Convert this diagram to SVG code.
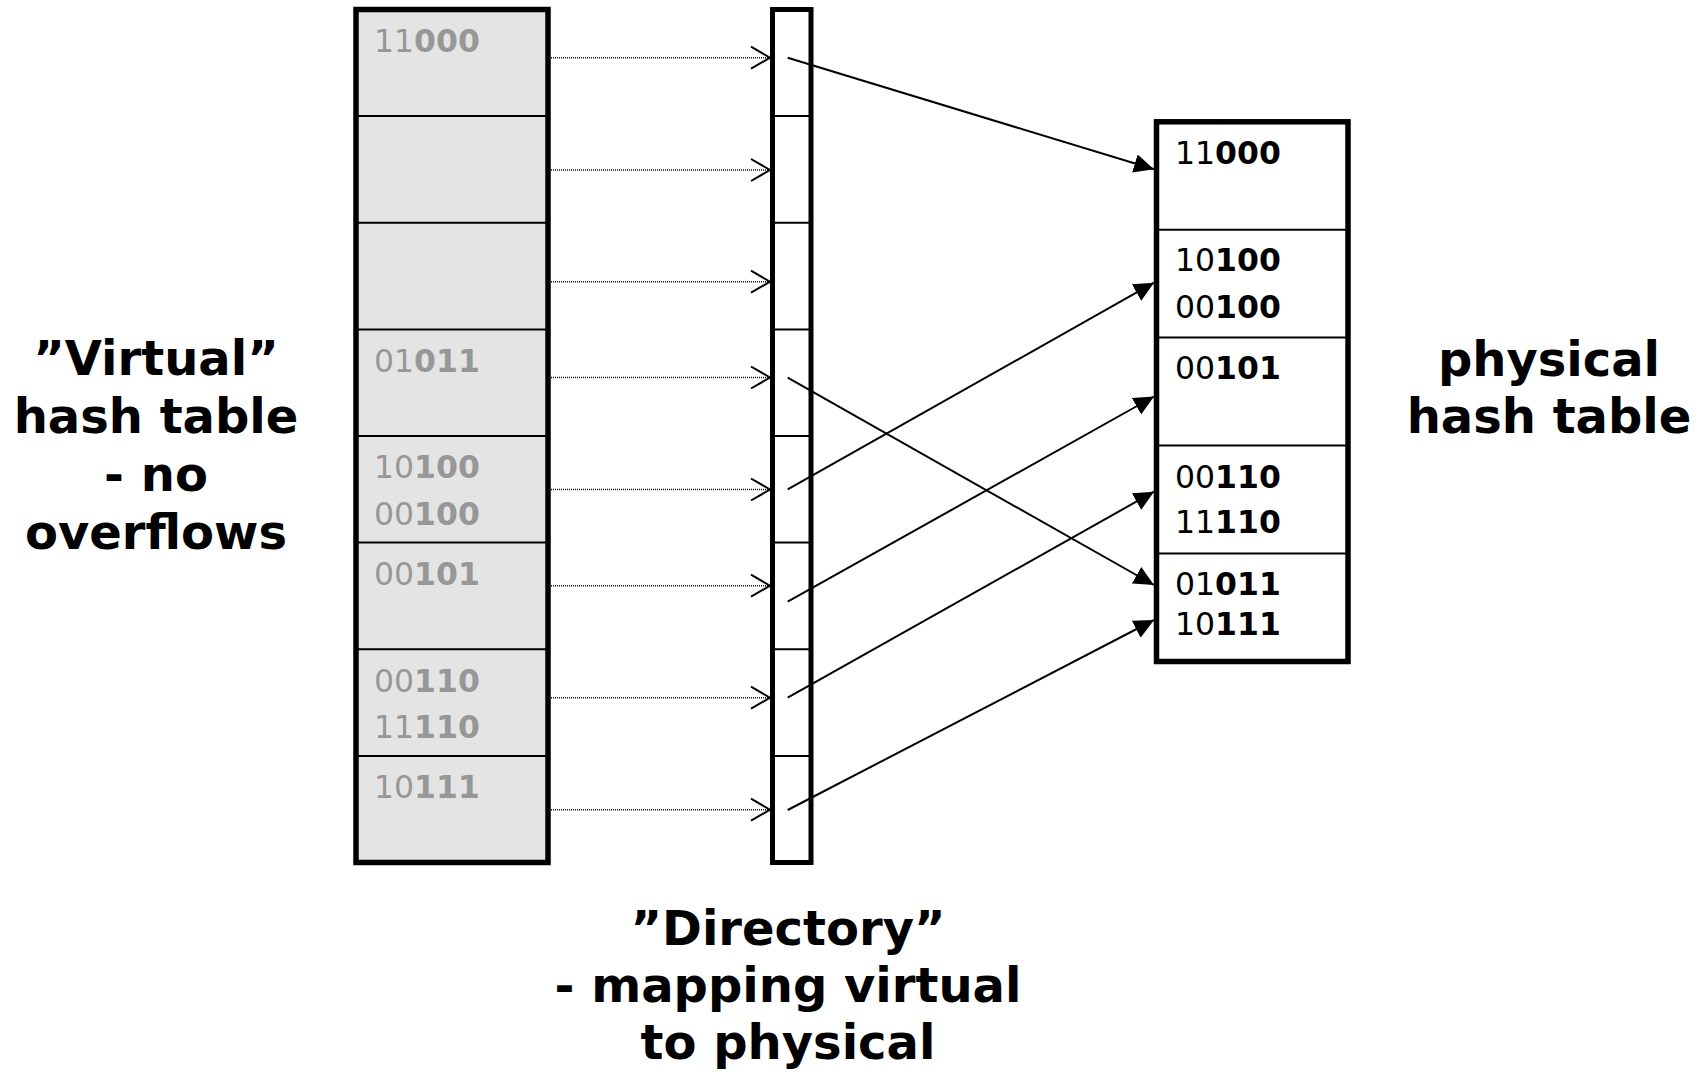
<svg xmlns="http://www.w3.org/2000/svg" width="1699" height="1072" viewBox="0 0 1699 1072">
  <style>
    .frame { stroke: #000; stroke-width: 5.5; }
    .sep { stroke: #000; stroke-width: 2; }
    .key { font-family: "DejaVu Sans", Verdana, sans-serif; font-size: 31.5px; }
    .key .b { font-weight: bold; }
    .ghost { fill: #979797; }
    .real { fill: #000; }
    .label { font-family: "DejaVu Sans", Verdana, sans-serif; font-size: 48px; font-weight: bold; fill: #000; text-anchor: middle; }
    .dotted { stroke: #111; stroke-width: 1.5; stroke-dasharray: 1 1; fill: none; }
    .chev { stroke: #000; stroke-width: 2; fill: none; }
    .ptr { stroke: #000; stroke-width: 2; fill: none; }
  </style>
  <defs>
    <marker id="tri" markerUnits="userSpaceOnUse" markerWidth="20" markerHeight="20" refX="20" refY="10" orient="auto">
      <path d="M0,0.5 L20,10 L0,19.5 z" fill="#000"/>
    </marker>
  </defs>
  <rect width="1699" height="1072" fill="#fff"/>

  <!-- virtual hash table: 8 buckets -->
  <g id="virtual-table">
    <rect class="frame" x="356" y="9.5" width="192" height="853" fill="#e4e4e4"/>
    <g class="sep">
      <line x1="356" y1="116.1" x2="548" y2="116.1"/>
      <line x1="356" y1="222.8" x2="548" y2="222.8"/>
      <line x1="356" y1="329.4" x2="548" y2="329.4"/>
      <line x1="356" y1="436" x2="548" y2="436"/>
      <line x1="356" y1="542.6" x2="548" y2="542.6"/>
      <line x1="356" y1="649.3" x2="548" y2="649.3"/>
      <line x1="356" y1="755.9" x2="548" y2="755.9"/>
    </g>
    <g class="key ghost">
      <text x="374" y="51.7">11<tspan class="b">000</tspan></text>
      <text x="374" y="371.7">01<tspan class="b">011</tspan></text>
      <text x="374" y="478.3">10<tspan class="b">100</tspan></text>
      <text x="374" y="525">00<tspan class="b">100</tspan></text>
      <text x="374" y="585">00<tspan class="b">101</tspan></text>
      <text x="374" y="691.7">00<tspan class="b">110</tspan></text>
      <text x="374" y="738.3">11<tspan class="b">110</tspan></text>
      <text x="374" y="798.3">10<tspan class="b">111</tspan></text>
    </g>
  </g>

  <!-- directory: one slot per virtual bucket -->
  <g id="directory">
    <rect x="772.5" y="9.5" width="38.5" height="853" fill="#fff" stroke="#000" stroke-width="5"/>
    <g class="sep">
      <line x1="772.5" y1="116.1" x2="811" y2="116.1"/>
      <line x1="772.5" y1="222.8" x2="811" y2="222.8"/>
      <line x1="772.5" y1="329.4" x2="811" y2="329.4"/>
      <line x1="772.5" y1="436" x2="811" y2="436"/>
      <line x1="772.5" y1="542.6" x2="811" y2="542.6"/>
      <line x1="772.5" y1="649.3" x2="811" y2="649.3"/>
      <line x1="772.5" y1="755.9" x2="811" y2="755.9"/>
    </g>
  </g>

  <!-- physical hash table: 5 buckets -->
  <g id="physical-table">
    <rect class="frame" x="1156.5" y="121.8" width="191.5" height="539.7" fill="#fff"/>
    <g class="sep">
      <line x1="1156.5" y1="229.7" x2="1348" y2="229.7"/>
      <line x1="1156.5" y1="337.6" x2="1348" y2="337.6"/>
      <line x1="1156.5" y1="445.5" x2="1348" y2="445.5"/>
      <line x1="1156.5" y1="553.5" x2="1348" y2="553.5"/>
    </g>
    <g class="key real">
      <text x="1175" y="164.3">11<tspan class="b">000</tspan></text>
      <text x="1175" y="271">10<tspan class="b">100</tspan></text>
      <text x="1175" y="317.7">00<tspan class="b">100</tspan></text>
      <text x="1175" y="379">00<tspan class="b">101</tspan></text>
      <text x="1175" y="487.7">00<tspan class="b">110</tspan></text>
      <text x="1175" y="533.3">11<tspan class="b">110</tspan></text>
      <text x="1175" y="595.3">01<tspan class="b">011</tspan></text>
      <text x="1175" y="635">10<tspan class="b">111</tspan></text>
    </g>
  </g>

  <!-- captions -->
  <g id="virtual-caption" class="label">
    <text x="156" y="374.5">”Virtual”</text>
    <text x="156" y="432.5">hash table</text>
    <text x="156" y="490.5">- no</text>
    <text x="156" y="548.5">overflows</text>
  </g>
  <g id="physical-caption" class="label">
    <text x="1549" y="376">physical</text>
    <text x="1549" y="432.5">hash table</text>
  </g>
  <g id="directory-caption" class="label">
    <text x="788" y="945">”Directory”</text>
    <text x="788" y="1002">- mapping virtual</text>
    <text x="788" y="1059">to physical</text>
  </g>

  <!-- connectors -->
  <g id="connectors">
    <!-- virtual bucket to directory slot -->
    <g class="dotted">
      <line x1="551" y1="57.7" x2="769" y2="57.7"/>
      <line x1="551" y1="170" x2="769" y2="170"/>
      <line x1="551" y1="281.7" x2="769" y2="281.7"/>
      <line x1="551" y1="377.5" x2="769" y2="377.5"/>
      <line x1="551" y1="489.5" x2="769" y2="489.5"/>
      <line x1="551" y1="585.7" x2="769" y2="585.7"/>
      <line x1="551" y1="697.7" x2="769" y2="697.7"/>
      <line x1="551" y1="809.7" x2="769" y2="809.7"/>
    </g>
    <g class="chev">
      <polyline points="751,46.7 770,57.7 751,68.7"/>
      <polyline points="751,159 770,170 751,181"/>
      <polyline points="751,270.7 770,281.7 751,292.7"/>
      <polyline points="751,366.5 770,377.5 751,388.5"/>
      <polyline points="751,478.5 770,489.5 751,500.5"/>
      <polyline points="751,574.7 770,585.7 751,596.7"/>
      <polyline points="751,686.7 770,697.7 751,708.7"/>
      <polyline points="751,798.7 770,809.7 751,820.7"/>
    </g>
    <!-- directory slot to physical bucket -->
    <g class="ptr" marker-end="url(#tri)">
      <line x1="787.7" y1="57.7" x2="1154" y2="169.3"/>
      <line x1="787.7" y1="377.7" x2="1154" y2="585"/>
      <line x1="787.7" y1="489.3" x2="1154" y2="282.7"/>
      <line x1="787.7" y1="601.7" x2="1154" y2="396.5"/>
      <line x1="787.7" y1="697.7" x2="1154" y2="491.7"/>
      <line x1="787.7" y1="810" x2="1154" y2="620"/>
    </g>
  </g>
</svg>
